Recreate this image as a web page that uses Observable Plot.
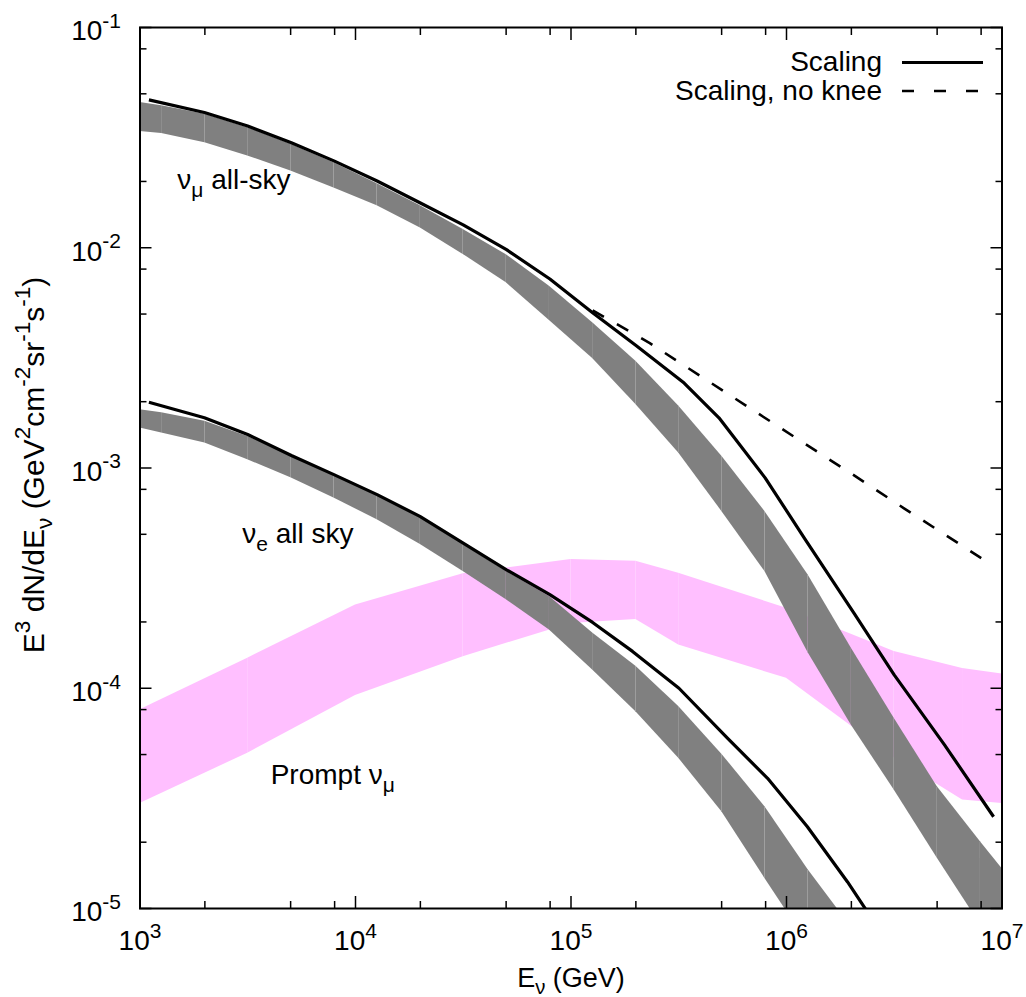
<!DOCTYPE html>
<html>
<head>
<meta charset="utf-8">
<script src="https://cdn.jsdelivr.net/npm/d3@7"></script>
<script src="https://cdn.jsdelivr.net/npm/@observablehq/plot@0.6"></script>
<style>
  html, body { margin: 0; padding: 0; background: #fff; }
  #chart svg { display: block; }
</style>
</head>
<body>
<div id="chart"></div>
<script>
// ---------------- data (E in GeV, flux in GeV^2 cm^-2 sr^-1 s^-1) ----------------
// conventional nu_mu all-sky band
const numuBandE = [1e3, 1.26e3, 2.0e3, 3.16e3, 5.01e3, 7.94e3, 1.26e4, 2.0e4, 3.16e4, 5.01e4, 7.94e4,
                   1.26e5, 2.0e5, 3.16e5, 5.01e5, 7.94e5, 1.26e6, 2.0e6, 3.16e6, 5.01e6, 7.94e6, 1e7];
const numuBandHi = [0.0456, 0.0441, 0.0404, 0.0351, 0.0295, 0.0243, 0.0195, 0.0155, 0.0121, 0.00930, 0.00668,
                    0.00456, 0.00305, 0.00191, 0.00113, 0.000635, 0.000327, 0.000152, 7.31e-5, 3.57e-5, 2.01e-5, 1.52e-5];
const numuBandLo = [0.0337, 0.0330, 0.0300, 0.0261, 0.0223, 0.0187, 0.0155, 0.0123, 0.00933, 0.00693, 0.00468,
                    0.00314, 0.00194, 0.00117, 0.000635, 0.000339, 0.000145, 6.80e-5, 3.45e-5, 1.69e-5, 8.45e-6, 6.03e-6];

// conventional nu_e all-sky band
const nueBandE = [1e3, 1.26e3, 2.0e3, 3.16e3, 5.01e3, 7.94e3, 1.26e4, 2.0e4, 3.16e4, 5.01e4, 7.94e4,
                  1.26e5, 2.0e5, 3.16e5, 5.01e5, 7.94e5, 1.26e6, 2.0e6];
const nueBandHi = [0.00184, 0.00178, 0.00163, 0.00139, 0.00115, 0.000933, 0.000757, 0.000593, 0.000449, 0.000339, 0.000261,
                   0.000178, 0.000126, 8.26e-5, 5.02e-5, 2.90e-5, 1.50e-5, 8.2e-6];
const nueBandLo = [0.00152, 0.00144, 0.00130, 0.00109, 0.000902, 0.000731, 0.000582, 0.000449, 0.000339, 0.000252, 0.000184,
                   0.000121, 7.83e-5, 4.81e-5, 2.75e-5, 1.37e-5, 6.9e-6, 3.5e-6];

// prompt nu_mu band
const promptE  = [1e3, 3.16e3, 1e4, 3.16e4, 1e5, 2e5, 3.16e5, 1e6, 3.16e6, 6.56e6, 1e7];
const promptHi = [7.98e-5, 1.37e-4, 2.39e-4, 3.31e-4, 3.84e-4, 3.77e-4, 3.33e-4, 2.31e-4, 1.47e-4, 1.23e-4, 1.16e-4];
const promptLo = [3.00e-5, 5.07e-5, 9.27e-5, 1.39e-4, 1.97e-4, 2.05e-4, 1.57e-4, 1.11e-4, 4.84e-5, 3.11e-5, 3.00e-5];

// "Scaling" curves
const numuScalingE = [1.1e3, 1.99e3, 3.16e3, 5.04e3, 7.94e3, 1.26e4, 1.99e4, 3.16e4, 5.02e4, 7.98e4,
                      1.26e5, 2.01e5, 3.35e5, 4.86e5, 7.96e5, 1.21e6, 2.06e6, 3.16e6, 5.40e6, 9.14e6];
const numuScaling  = [0.0469, 0.0411, 0.0357, 0.0300, 0.0248, 0.0201, 0.0160, 0.0127, 0.0098, 0.00721,
                      0.00507, 0.00359, 0.00243, 0.00169, 0.000902, 0.000481, 0.000219, 0.000115, 5.55e-5, 2.61e-5];
const nueScalingE  = [1.1e3, 1.99e3, 3.16e3, 5.04e3, 7.94e3, 1.26e4, 1.99e4, 3.16e4, 5.02e4, 7.98e4,
                      1.26e5, 1.93e5, 3.17e5, 5.32e5, 8.17e5, 1.25e6, 1.92e6, 2.46e6];
const nueScaling   = [0.00199, 0.00169, 0.00142, 0.00114, 0.000933, 0.000757, 0.000603, 0.000456, 0.000345, 0.000266,
                      0.000199, 0.000147, 0.000100, 5.93e-5, 3.90e-5, 2.35e-5, 1.32e-5, 9.16e-6];

// "Scaling, no knee" curve
const noKneeE = [1.26e5, 2.32e5, 4.0e5, 6.82e5, 1.23e6, 1.99e6, 3.51e6, 6.46e6, 8.91e6];
const noKnee  = [0.0052, 0.00369, 0.00261, 0.00186, 0.00128, 0.000946, 0.000656, 0.000447, 0.000364];

// in-plot labels
const labelText = ["ν_{μ} all-sky", "ν_{e} all sky", "Prompt ν_{μ}"];
const labelE    = [1490, 2980, 4040];
const labelFlux = [0.0185, 4.56e-4, 3.67e-5];

// legend
const legendText = ["Scaling", "Scaling, no knee"];

// ticks
const xMajor = [1e3, 1e4, 1e5, 1e6, 1e7];
const xMinor = [2e3, 5e3, 8e3, 2e4, 5e4, 8e4, 2e5, 5e5, 8e5, 2e6, 5e6, 8e6];
const yMajor = [1e-5, 1e-4, 1e-3, 1e-2, 1e-1];
const yMinor = [2e-5, 5e-5, 8e-5, 2e-4, 5e-4, 8e-4, 2e-3, 5e-3, 8e-3, 2e-2, 5e-2, 8e-2];

const xTitle = "E_{ν} (GeV)";
const yTitle = "E^{3} dN/dE_{ν} (GeV^{2}cm^{-2}sr^{-1}s^{-1})";

// ---------------- helpers ----------------
const FONT = "'Liberation Sans', Arial, Helvetica, sans-serif";
const GRAY = "#808080";
const PINK = "#ffbfff";

function segments(E, lo, hi) {
  const out = [];
  for (let i = 0; i < E.length - 1; i++) {
    for (const j of [i, i + 1]) out.push({seg: i, E: E[j], lo: lo[j], hi: hi[j]});
  }
  return out;
}
function series(E, F) { return E.map((e, i) => ({E: e, F: F[i]})); }
const expLabel = d => `10^{${Math.round(Math.log10(d))}}`;

const labels = labelText.map((t, i) => ({t, E: labelE[i], F: labelFlux[i]}));

const plot = Plot.plot({
  width: 1026,
  height: 997,
  marginLeft: 139.5,
  marginRight: 24.5,
  marginTop: 27,
  marginBottom: 89,
  style: {fontFamily: FONT, fontSize: "28px", background: "#fff", color: "#000"},
  x: {type: "log", domain: [1e3, 1e7]},
  y: {type: "log", domain: [1e-5, 1e-1]},
  marks: [
    Plot.areaY(segments(promptE, promptLo, promptHi), {x: "E", y1: "lo", y2: "hi", z: "seg", fill: PINK, clip: true}),
    Plot.areaY(segments(numuBandE, numuBandLo, numuBandHi), {x: "E", y1: "lo", y2: "hi", z: "seg", fill: GRAY, clip: true}),
    Plot.areaY(segments(nueBandE, nueBandLo, nueBandHi), {x: "E", y1: "lo", y2: "hi", z: "seg", fill: GRAY, clip: true}),
    Plot.line(series(numuScalingE, numuScaling), {x: "E", y: "F", stroke: "#000", strokeWidth: 3.2, strokeLinecap: "butt", clip: true}),
    Plot.line(series(nueScalingE, nueScaling), {x: "E", y: "F", stroke: "#000", strokeWidth: 3.2, strokeLinecap: "butt", clip: true}),
    Plot.line(series(noKneeE, noKnee), {x: "E", y: "F", stroke: "#000", strokeWidth: 2.6, strokeDasharray: "13,15", strokeLinecap: "butt", clip: true}),
    Plot.text(labels, {x: "E", y: "F", text: "t", textAnchor: "start", lineAnchor: "bottom", fontSize: 28}),
    // ticks (inward, all four sides)
    Plot.axisX(xMajor, {anchor: "bottom", tickSize: -12, strokeWidth: 1.5, fill: "none", label: null}),
    Plot.axisX(xMinor, {anchor: "bottom", tickSize: -7, strokeWidth: 1.5, fill: "none", label: null}),
    Plot.axisX(xMajor, {anchor: "top", tickSize: -12, strokeWidth: 1.5, fill: "none", label: null}),
    Plot.axisX(xMinor, {anchor: "top", tickSize: -7, strokeWidth: 1.5, fill: "none", label: null}),
    Plot.axisY(yMajor, {anchor: "left", tickSize: -12, strokeWidth: 1.5, fill: "none", label: null}),
    Plot.axisY(yMinor, {anchor: "left", tickSize: -7, strokeWidth: 1.5, fill: "none", label: null}),
    Plot.axisY(yMajor, {anchor: "right", tickSize: -12, strokeWidth: 1.5, fill: "none", label: null}),
    Plot.axisY(yMinor, {anchor: "right", tickSize: -7, strokeWidth: 1.5, fill: "none", label: null}),
    // tick labels
    Plot.axisX(xMajor, {anchor: "bottom", tickSize: 0, tickPadding: 22, fontSize: 28, tickFormat: expLabel, label: null}),
    Plot.axisY(yMajor, {anchor: "left", tickSize: 0, tickPadding: 19, dy: 4, fontSize: 28, tickFormat: expLabel, label: null}),
    Plot.frame({stroke: "#000", strokeWidth: 2}),
    // axis titles
    Plot.text([xTitle], {text: d => d, frameAnchor: "bottom", lineAnchor: "bottom", dy: 78, fontSize: 27}),
    Plot.text([yTitle], {text: d => d, frameAnchor: "left", rotate: -90, textAnchor: "middle", lineAnchor: "middle", dx: -106, dy: -3, fontSize: 30})
  ]
});

// legend (inside the frame, top right)
const NS = "http://www.w3.org/2000/svg";
const lg = d3.select(plot).append("g").attr("font-family", FONT).attr("font-size", 28);
legendText.forEach((t, i) => {
  const baseY = 71 + i * 28.5;
  lg.append("text").attr("x", 882).attr("y", baseY).attr("text-anchor", "end").text(t);
  lg.append("line").attr("x1", 902).attr("x2", 983).attr("y1", baseY - 8.5).attr("y2", baseY - 8.5)
    .attr("stroke", "#000").attr("stroke-width", i === 0 ? 3.2 : 2.6)
    .attr("stroke-dasharray", i === 0 ? null : "12,20");
});

// rich text: ^{..} superscript, _{..} subscript
function richify(el) {
  const str = el.textContent;
  if (!/[\^_]\{/.test(str)) return;
  const base = parseFloat(getComputedStyle(el).fontSize) || 28;
  const re = /([\^_])\{([^}]*)\}/g;
  const parts = [];
  let last = 0, m;
  while ((m = re.exec(str))) {
    if (m.index > last) parts.push({t: str.slice(last, m.index), s: 0});
    parts.push({t: m[2], s: m[1] === "^" ? -1 : 1});
    last = re.lastIndex;
  }
  if (last < str.length) parts.push({t: str.slice(last), s: 0});
  while (el.firstChild) el.removeChild(el.firstChild);
  let shift = 0;
  for (const p of parts) {
    const target = p.s === 0 ? 0 : p.s < 0 ? -0.45 * base : 0.28 * base;
    const ts = document.createElementNS(NS, "tspan");
    if (target - shift !== 0) ts.setAttribute("dy", (target - shift).toFixed(2));
    shift = target;
    if (p.s !== 0) ts.setAttribute("font-size", (0.75 * base).toFixed(1));
    ts.textContent = p.t;
    el.appendChild(ts);
  }
}
document.getElementById("chart").appendChild(plot);
d3.select(plot).selectAll("text").each(function() { richify(this); });
</script>
</body>
</html>
